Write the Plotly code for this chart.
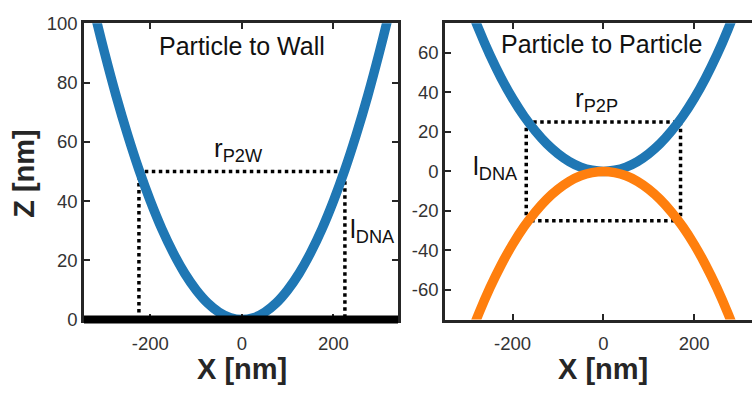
import plotly.graph_objects as go

# ---- data -------------------------------------------------------------
# particle-to-wall profile (nm)
wall_x = [-350, -325, -300, -275, -250, -225, -200, -175, -150, -125, -100, -75, -50, -25,
          0, 25, 50, 75, 100, 125, 150, 175, 200, 225, 250, 275, 300, 325, 350]
wall_z = [122.5, 105.6, 90.0, 75.6, 62.5, 50.6, 40.0, 30.6, 22.5, 15.6, 10.0, 5.6, 2.5, 0.6,
          0.0, 0.6, 2.5, 5.6, 10.0, 15.6, 22.5, 30.6, 40.0, 50.6, 62.5, 75.6, 90.0, 105.6, 122.5]

# particle-to-particle profiles (nm): upper particle and lower particle
pp_x = [-325, -300, -275, -250, -225, -200, -175, -150, -125, -100, -75, -50, -25,
        0, 25, 50, 75, 100, 125, 150, 175, 200, 225, 250, 275, 300, 325]
upper_z = [104.5, 87.2, 72.2, 58.9, 47.2, 36.9, 28.0, 20.5, 14.1, 9.0, 5.0, 2.2, 0.6,
           0.0, 0.6, 2.2, 5.0, 9.0, 14.1, 20.5, 28.0, 36.9, 47.2, 58.9, 72.2, 87.2, 104.5]
lower_z = [-104.5, -87.2, -72.2, -58.9, -47.2, -36.9, -28.0, -20.5, -14.1, -9.0, -5.0, -2.2, -0.6,
           0.0, -0.6, -2.2, -5.0, -9.0, -14.1, -20.5, -28.0, -36.9, -47.2, -58.9, -72.2, -87.2, -104.5]

# guide dimensions (nm)
r_p2w = 225
l_dna_wall = 50
r_p2p = 170
l_dna_pp = 25

# axis ticks
x_ticks = [-200, 0, 200]
x_tick_text = ["-200", "0", "200"]
wall_y_ticks = [0, 20, 40, 60, 80, 100]
wall_y_text = ["0", "20", "40", "60", "80", "100"]
pp_y_ticks = [-60, -40, -20, 0, 20, 40, 60]
pp_y_text = ["-60", "-40", "-20", "0", "20", "40", "60"]

# ---- styling ----------------------------------------------------------
BLUE = "#1f77b4"
ORANGE = "#ff7f0e"
AX = "#262626"
FONT = "Liberation Sans, Arial, sans-serif"
CURVE_W = 9.5
DOT = dict(color="black", width=3.5, dash="3.5px,3.5px")

fig = go.Figure()

# dotted guides, particle to wall
fig.add_trace(go.Scatter(x=[-r_p2w, -r_p2w, r_p2w, r_p2w], y=[0, l_dna_wall, l_dna_wall, 0],
                         mode="lines", line=DOT, xaxis="x", yaxis="y", hoverinfo="skip"))
fig.add_trace(go.Scatter(x=wall_x, y=wall_z, mode="lines", line_shape="spline",
                         line=dict(color=BLUE, width=CURVE_W), xaxis="x", yaxis="y"))

# dotted guides, particle to particle
fig.add_trace(go.Scatter(x=[-r_p2p, r_p2p, r_p2p, -r_p2p, -r_p2p],
                         y=[l_dna_pp, l_dna_pp, -l_dna_pp, -l_dna_pp, l_dna_pp],
                         mode="lines", line=DOT, xaxis="x2", yaxis="y2", hoverinfo="skip"))
fig.add_trace(go.Scatter(x=pp_x, y=upper_z, mode="lines", line_shape="spline",
                         line=dict(color=BLUE, width=CURVE_W), xaxis="x2", yaxis="y2"))
fig.add_trace(go.Scatter(x=pp_x, y=lower_z, mode="lines", line_shape="spline",
                         line=dict(color=ORANGE, width=CURVE_W), xaxis="x2", yaxis="y2"))

axis_common = dict(showgrid=False, zeroline=False, showline=True, linecolor=AX, linewidth=2.5,
                   ticks="inside", ticklen=6, tickwidth=2, tickcolor=AX,
                   tickfont=dict(family=FONT, size=18.5, color="#333333"))

TOP, BOT = 1 - 13 / 393, 1 - 326 / 393

fig.update_layout(
    width=752, height=393, margin=dict(l=0, r=0, t=0, b=0),
    paper_bgcolor="white", plot_bgcolor="white", showlegend=False,
    xaxis=dict(domain=[84 / 752, 398 / 752], range=[-345, 341], tickvals=x_ticks,
               ticktext=x_tick_text, ticklabelstandoff=5,
               mirror="ticks", anchor="y", **axis_common),
    yaxis=dict(domain=[BOT, TOP], range=[0, 100], tickvals=wall_y_ticks, ticktext=wall_y_text,
               mirror="ticks", anchor="x", **axis_common),
    xaxis2=dict(domain=[445 / 752, 1.0], range=[-349, 327.5], tickvals=x_ticks,
                ticktext=x_tick_text, ticklabelstandoff=5,
                mirror="ticks", anchor="y2", **axis_common),
    yaxis2=dict(domain=[BOT, TOP], range=[-75, 75], tickvals=pp_y_ticks, ticktext=pp_y_text,
                anchor="x2", **axis_common),
)

# the wall: a heavy black bar along the bottom edge (z = 0) of the left panel,
# referenced to the axis domain so it is not clipped and straddles the axis line
fig.add_shape(type="line", xref="x domain", yref="y domain", x0=0, x1=1,
              y0=0, y1=0, layer="above", line=dict(color="black", width=8))

big = dict(family=FONT, size=25, color="#111111")
lab = dict(family=FONT, size=26, color="#111111")
title_font = dict(family=FONT, size=29, color=AX)

annotations = [
    dict(text="Particle to Wall", x=242 / 752, y=1 - 37 / 393, font=big),
    dict(text="Particle to Particle", x=601 / 752, y=1 - 35 / 393, font=big),
    dict(text="r<sub>P2W</sub>", x=239 / 752, y=1 - 146 / 393, font=lab),
    dict(text="r<sub>P2P</sub>", x=596 / 752, y=1 - 94 / 393, font=lab),
    dict(text="l<sub>DNA</sub>", x=372 / 752, y=1 - 232 / 393, font=lab),
    dict(text="l<sub>DNA</sub>", x=495 / 752, y=1 - 165 / 393, font=lab),
    dict(text="<b>X [nm]</b>", x=242 / 752, y=1 - 378 / 393, font=title_font),
    dict(text="<b>X [nm]</b>", x=603 / 752, y=1 - 378 / 393, font=title_font),
    dict(text="<b>Z [nm]</b>", x=24 / 752, y=1 - 171 / 393, font=title_font, textangle=-90),
]
for a in annotations:
    a.update(xref="paper", yref="paper", showarrow=False, xanchor="center", yanchor="middle")
fig.update_layout(annotations=annotations)

fig.write_html("out.html")
